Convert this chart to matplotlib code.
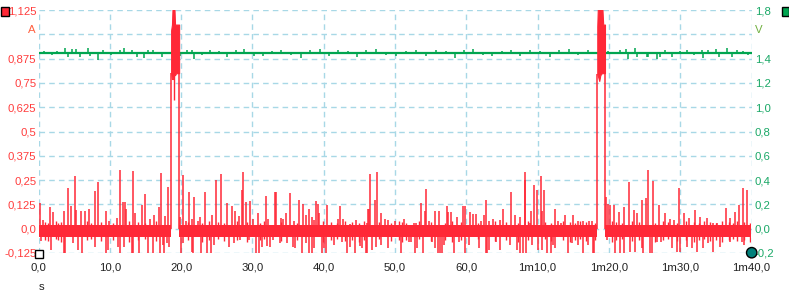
import matplotlib
matplotlib.use("Agg")
import matplotlib.pyplot as plt
from matplotlib.patches import Rectangle, Circle
from matplotlib.transforms import blended_transform_factory

# ---------------- data ----------------
# current (A): dense noise band segments (time s)
band_start = [0.0, 19.72, 79.45]
band_end = [18.6, 78.37, 100.0]
band_lo = -0.044
band_hi = 0.017

# upward current spikes
up_t = [0.2, 0.6, 1.66, 2.0, 3.6, 4.2, 4.5, 5.07, 5.3, 5.9, 6.5, 7.04, 7.97, 8.39, 9.47, 9.9,
        10.96, 11.47, 11.9, 12.1, 12.3, 13.3, 13.48, 14.56, 14.9, 15.7, 16.15, 16.86, 17.18,
        17.8, 18.2, 19.9, 20.3, 20.7, 21.15, 21.5, 21.85, 22.4, 22.65, 23.4, 24.3, 24.9, 25.64,
        26.5, 27.2, 27.56, 28.1, 28.5, 28.62, 29.1, 29.6, 30.1, 30.8, 31.9, 32.2, 33.2, 33.35,
        33.97, 34.3, 34.7, 35.3, 35.9, 36.6, 37.1, 37.5, 37.9, 38.3, 38.7, 38.96, 39.2, 39.4,
        40.5, 42.05, 42.3, 42.75, 43.7, 44.6, 46.1, 46.2, 46.4, 46.5, 47.2, 47.5, 48.04, 48.6,
        49.06, 50.0, 51.3, 52.66, 53.0, 53.6, 54.2, 54.35, 54.8, 55.6, 56.2, 57.25, 57.5, 57.9,
        58.7, 59.6, 59.86, 60.5, 60.9, 61.3, 62.0, 62.5, 62.8, 63.2, 63.7, 64.7, 65.2, 66.2,
        66.8, 67.5, 68.2, 68.3, 68.9, 69.1, 69.5, 69.85, 70.5, 70.6, 70.9, 71.6, 72.5, 72.8,
        73.3, 73.85, 75.0, 75.7, 76.4, 77.25, 77.6, 79.55, 79.84, 80.15, 80.76, 81.46, 82.1,
        82.76, 83.5, 83.9, 84.6, 85.2, 85.44, 86.2, 87.0, 87.9, 88.6, 89.2, 89.9, 90.5, 91.3,
        92.1, 92.8, 93.7, 94.6, 95.2, 96.4, 97.0, 97.7, 98.3, 98.8, 99.4]
up_v = [0.134, 0.045, 0.113, 0.087, 0.09, 0.21, 0.116, 0.272, 0.095, 0.09, 0.09, 0.10, 0.193,
        0.241, 0.09, 0.04, 0.053, 0.30, 0.137, 0.137, 0.10, 0.296, 0.08, 0.12, 0.18, 0.05,
        0.07, 0.11, 0.284, 0.065, 0.216, 0.06, 0.277, 0.04, 0.19, 0.05, 0.165, 0.04, 0.06,
        0.19, 0.07, 0.25, 0.28, 0.134, 0.117, 0.09, 0.065, 0.2, 0.29, 0.138, 0.14, 0.05, 0.08,
        0.17, 0.05, 0.19, 0.19, 0.055, 0.05, 0.08, 0.185, 0.04, 0.147, 0.127, 0.07, 0.10, 0.06,
        0.045, 0.142, 0.127, 0.08, 0.122, 0.05, 0.117, 0.05, 0.025, 0.045, 0.03, 0.1, 0.1, 0.28,
        0.15, 0.29, 0.08, 0.05, 0.045, 0.04, 0.05, 0.03, 0.03, 0.134, 0.09, 0.204, 0.04, 0.09,
        0.09, 0.117, 0.086, 0.084, 0.06, 0.117, 0.117, 0.085, 0.077, 0.077, 0.04, 0.07, 0.146,
        0.04, 0.05, 0.045, 0.1, 0.19, 0.07, 0.06, 0.25, 0.29, 0.03, 0.09, 0.225, 0.2, 0.27,
        0.09, 0.2, 0.02, 0.1, 0.04, 0.03, 0.07, 0.07, 0.04, 0.04, 0.04, 0.04, 0.165, 0.127,
        0.12, 0.12, 0.087, 0.113, 0.24, 0.095, 0.08, 0.147, 0.156, 0.30, 0.245, 0.12, 0.08,
        0.048, 0.044, 0.21, 0.08, 0.053, 0.096, 0.06, 0.053, 0.027, 0.027, 0.104, 0.053,
        0.087, 0.12, 0.21, 0.2]

# downward current spikes
dn_t = [0.3, 1.75, 3.6, 3.77, 4.9, 5.6, 6.1, 7.97, 9.47, 9.75, 11.1, 11.5, 12.0, 13.07, 13.2,
        14.1, 15.36, 16.1, 17.04, 17.4, 17.65, 17.98, 18.35, 19.94, 20.2, 21.57, 21.7, 22.75,
        23.67, 24.15, 24.6, 26.7, 27.4, 28.26, 29.57, 30.5, 30.97, 31.4, 32.1, 32.5, 32.9,
        33.87, 34.8, 35.7, 35.97, 37.0, 37.5, 37.9, 38.3, 38.7, 39.8, 40.1, 40.3, 41.5, 42.6,
        43.2, 43.7, 44.4, 45.1, 45.4, 45.98, 46.07, 46.8, 47.4, 48.1, 49.06, 50.8, 51.9, 52.2,
        52.76, 53.1, 53.97, 55.15, 55.6, 56.1, 56.3, 56.55, 56.9, 58.3, 59.0, 59.8, 60.4, 61.8,
        62.7, 62.95, 63.2, 64.2, 64.7, 66.1, 67.07, 67.5, 67.9, 68.4, 69.2, 70.1, 70.6, 71.3,
        71.85, 72.2, 72.4, 74.2, 74.8, 75.7, 76.3, 77.1, 77.7, 77.95, 79.7, 80.85, 81.55,
        82.16, 82.96, 83.66, 84.6, 84.8, 85.76, 86.0, 86.8, 87.35, 88.8, 89.5, 89.97, 91.0,
        91.6, 92.4, 93.2, 93.9, 94.6, 95.6, 97.0, 98.6, 98.95, 99.55]
dn_v = [-0.063, -0.11, -0.123, -0.123, -0.075, -0.11, -0.123, -0.096, -0.123, -0.11, -0.092,
        -0.123, -0.092, -0.123, -0.123, -0.123, -0.123, -0.123, -0.123, -0.084, -0.123,
        -0.075, -0.096, -0.123, -0.072, -0.118, -0.123, -0.123, -0.123, -0.123, -0.084,
        -0.096, -0.075, -0.058, -0.058, -0.123, -0.123, -0.092, -0.088, -0.096, -0.058,
        -0.072, -0.075, -0.096, -0.1, -0.123, -0.075, -0.123, -0.123, -0.1, -0.123, -0.1,
        -0.123, -0.084, -0.067, -0.123, -0.092, -0.123, -0.088, -0.1, -0.123, -0.123, -0.11,
        -0.092, -0.084, -0.1, -0.123, -0.067, -0.067, -0.123, -0.1, -0.123, -0.067, -0.1,
        -0.123, -0.123, -0.123, -0.084, -0.123, -0.067, -0.123, -0.084, -0.1, -0.123, -0.123,
        -0.11, -0.067, -0.11, -0.084, -0.11, -0.123, -0.123, -0.123, -0.084, -0.11, -0.11,
        -0.123, -0.123, -0.084, -0.1, -0.123, -0.075, -0.084, -0.123, -0.084, -0.123, -0.123,
        -0.058, -0.123, -0.123, -0.123, -0.118, -0.118, -0.1, -0.123, -0.123, -0.123, -0.067,
        -0.067, -0.1, -0.119, -0.119, -0.093, -0.1, -0.119, -0.1, -0.076, -0.119, -0.093,
        -0.067, -0.067, -0.084, -0.04]

# small ripple spikes in the noise band (time, high, low)
rip_t = [0.9, 1.3, 2.4, 2.8, 3.2, 6.8, 7.4, 8.8, 10.4, 12.7, 14.0, 15.0, 16.5, 20.9, 23.0,
         23.9, 25.2, 26.0, 27.9, 29.3, 31.1, 31.6, 34.0, 36.2, 39.9, 41.0, 41.8, 43.0, 44.0,
         45.0, 45.7, 47.8, 49.5, 50.5, 51.0, 51.6, 53.3, 55.0, 57.0, 58.0, 59.3, 61.6, 64.0,
         65.6, 67.2, 68.6, 71.0, 71.9, 73.6, 74.5, 75.3, 76.0, 76.8, 78.0, 80.4, 81.0, 81.8,
         83.2, 84.2, 86.5, 87.6, 88.3, 89.6, 90.8, 91.9, 92.6, 93.4, 94.2, 95.0, 95.8, 96.8,
         97.4, 98.0, 99.0, 99.8]
rip_hi = [0.035, 0.03, 0.04, 0.03, 0.035, 0.04, 0.03, 0.035, 0.03, 0.04, 0.035, 0.03, 0.04,
          0.035, 0.03, 0.04, 0.035, 0.03, 0.04, 0.035, 0.03, 0.04, 0.035, 0.03, 0.04, 0.035,
          0.03, 0.04, 0.035, 0.03, 0.04, 0.035, 0.03, 0.04, 0.035, 0.03, 0.04, 0.035, 0.03,
          0.04, 0.035, 0.03, 0.04, 0.035, 0.03, 0.04, 0.035, 0.03, 0.04, 0.035, 0.03, 0.04,
          0.035, 0.03, 0.04, 0.035, 0.03, 0.04, 0.035, 0.03, 0.04, 0.035, 0.03, 0.04, 0.035,
          0.03, 0.04, 0.035, 0.03, 0.04, 0.035, 0.03, 0.04, 0.035, 0.03]
rip_lo = [-0.06, -0.065, -0.055, -0.06, -0.07, -0.06, -0.055, -0.065, -0.06, -0.07, -0.06,
          -0.055, -0.065, -0.06, -0.07, -0.06, -0.055, -0.065, -0.06, -0.07, -0.06, -0.055,
          -0.065, -0.06, -0.07, -0.06, -0.055, -0.065, -0.06, -0.07, -0.06, -0.055, -0.065,
          -0.06, -0.07, -0.06, -0.055, -0.065, -0.06, -0.07, -0.06, -0.055, -0.065, -0.06,
          -0.07, -0.06, -0.055, -0.065, -0.06, -0.07, -0.06, -0.055, -0.065, -0.06, -0.07,
          -0.06, -0.055, -0.065, -0.06, -0.07, -0.06, -0.055, -0.065, -0.06, -0.07, -0.06,
          -0.055, -0.065, -0.06, -0.07, -0.06, -0.055, -0.065, -0.06, -0.07]

# high-current bursts
b1_t = [18.6, 18.72, 18.86, 19.0, 19.15, 19.3, 19.5, 19.72]
b1_hi = [1.02, 1.05, 1.2, 1.2, 1.05, 1.05, 1.05, 1.05]
b1_lo = [0.80, 0.77, 0.77, 0.79, 0.79, 0.80, 0.80, 0.80]
b1_dip_t = [19.0]
b1_dip_v = [0.66]
b2_t = [78.37, 78.5, 78.65, 78.8, 79.0, 79.2, 79.45]
b2_hi = [1.04, 1.2, 1.2, 1.2, 1.2, 1.05, 1.05]
b2_lo = [0.795, 0.78, 0.76, 0.79, 0.80, 0.80, 0.80]

# voltage (V)
v_base = 1.448
g_t = [0.8, 1.9, 2.6, 3.7, 4.2, 4.65, 5.26, 5.8, 6.9, 7.2, 8.4, 9.0, 10.2, 11.4, 12.0, 13.1,
       13.8, 14.8, 15.4, 16.1, 17.3, 19.85, 20.8, 21.5, 21.85, 23.0, 24.0, 25.3, 26.5, 27.7,
       28.8, 30.2, 31.5, 32.8, 34.0, 35.4, 36.8, 38.1, 39.5, 40.8, 42.0, 43.4, 44.7, 46.0,
       47.3, 48.8, 50.2, 51.6, 53.0, 54.4, 55.8, 57.1, 58.4, 59.7, 61.0, 62.3, 63.6, 65.0,
       66.3, 67.6, 69.0, 70.4, 71.7, 73.0, 74.4, 75.7, 77.0, 79.9, 81.5, 82.4, 82.7, 83.6,
       83.9, 85.3, 85.5, 86.7, 87.1, 87.9, 88.8, 90.0, 91.0, 92.0, 93.0, 93.2, 93.9, 94.96,
       95.5, 96.6, 97.2, 98.0, 98.8, 99.55]
g_dv = [0.015, -0.02, 0.018, 0.036, -0.033, 0.03, 0.027, -0.033, 0.036, -0.027, -0.06, 0.022,
        -0.02, 0.022, 0.036, 0.022, -0.038, -0.047, 0.022, 0.022, -0.033, -0.027, 0.022,
        0.022, -0.055, -0.02, 0.025, 0.018, -0.035, 0.02, 0.03, -0.025, -0.03, 0.018, 0.025,
        -0.02, -0.04, 0.02, 0.028, -0.025, 0.022, 0.018, -0.035, 0.02, 0.03, -0.02, -0.03,
        0.018, 0.025, -0.025, 0.022, 0.018, -0.04, 0.02, 0.03, -0.02, -0.03, 0.018, 0.025,
        -0.025, 0.022, 0.018, -0.035, 0.02, 0.028, -0.02, 0.022, 0.015, 0.022, 0.027, -0.055,
        0.036, -0.038, -0.038, -0.038, -0.055, -0.038, 0.022, -0.038, 0.018, 0.022, -0.02,
        0.022, -0.047, 0.022, 0.027, -0.038, 0.036, -0.038, 0.022, 0.015, -0.02]

x_ticks = [0, 10, 20, 30, 40, 50, 60, 70, 80, 90, 100]
x_labels = ["0,0", "10,0", "20,0", "30,0", "40,0", "50,0", "60,0",
            "1m10,0", "1m20,0", "1m30,0", "1m40,0"]
a_ticks = [-0.125, 0.0, 0.125, 0.25, 0.375, 0.5, 0.625, 0.75, 0.875, 1.0, 1.125]
a_labels = ["-0,125", "0,0", "0,125", "0,25", "0,375", "0,5", "0,625", "0,75", "0,875", "", "1,125"]
v_ticks = [-0.2, 0.0, 0.2, 0.4, 0.6, 0.8, 1.0, 1.2, 1.4, 1.6, 1.8]
v_labels = ["-0,2", "0,0", "0,2", "0,4", "0,6", "0,8", "1,0", "1,2", "1,4", "", "1,8"]

# ---------------- style ----------------
RED = "#ff2837"
GREEN = "#00a550"
GRID = "#a8d8e6"
plt.rcParams["font.family"] = ["Liberation Sans", "DejaVu Sans"]
FS = 8.2

fig = plt.figure(figsize=(7.89, 2.94), dpi=100)
W, H = 789, 294
L, R, T, B = 38.5, 751.5, 10, 253
ax2 = fig.add_axes([L / W, 1 - B / H, (R - L) / W, (B - T) / H])
ax = ax2.twinx()
ax.set_zorder(ax2.get_zorder() + 1)
ax.patch.set_visible(False)
ax.yaxis.tick_left()
ax2.yaxis.tick_right()

for a in (ax, ax2):
    for s in a.spines.values():
        s.set_visible(False)
    a.set_xlim(0, 100)

ax.set_ylim(-0.125, 1.125)
ax2.set_ylim(-0.2, 1.8)

# grid on bottom axis (behind green)
ax2.set_axisbelow(True)
ax2.set_xticks(x_ticks)
ax2.set_xticklabels(x_labels, fontsize=FS, color="#222222")
ax2.tick_params(axis="x", length=0, pad=7)
ax2.set_yticks(v_ticks)
ax2.grid(True, color=GRID, linestyle=(0, (4, 3)), linewidth=1.0)

# voltage trace
ax2.hlines(v_base, 0, 100, color=GREEN, linewidth=1.6)
ax2.vlines(g_t, v_base, [v_base + d for d in g_dv], color=GREEN, linewidth=1.1)

# current trace
for s0, s1 in zip(band_start, band_end):
    ax.fill_between([s0, s1], band_lo, band_hi, color=RED, linewidth=0)
ax.vlines(rip_t, rip_lo, rip_hi, color=RED, linewidth=1.0)
ax.vlines(up_t, 0, up_v, color=RED, linewidth=1.1)
ax.vlines(dn_t, 0, dn_v, color=RED, linewidth=1.1)
ax.fill_between(b1_t, b1_lo, b1_hi, color=RED, linewidth=0.8, edgecolor=RED)
ax.fill_between(b2_t, b2_lo, b2_hi, color=RED, linewidth=0.8, edgecolor=RED)
ax.vlines([b1_t[0], b1_t[-1]], 0, [b1_lo[0], b1_lo[-1]], color=RED, linewidth=1.1)
ax.vlines([b2_t[0], b2_t[-1]], 0, [b2_lo[0], b2_lo[-1]], color=RED, linewidth=1.1)
ax.vlines(b1_dip_t, b1_dip_v, b1_lo[3], color=RED, linewidth=1.0)

# y tick labels
ax.set_yticks(a_ticks)
ax.set_yticklabels(a_labels, fontsize=FS, color="#ff3c3c")
ax.tick_params(axis="y", length=0, pad=1.5)
ax.tick_params(axis="x", length=0, labelbottom=False)
ax2.set_yticklabels(v_labels, fontsize=FS, color="#19a866")
ax2.tick_params(axis="y", length=0, pad=2.5)

trA = blended_transform_factory(ax.transAxes, ax.transData)
ax.text(-0.004, 1.02, "A", transform=trA, ha="right", va="center", fontsize=FS, color="#ff6040")
trV = blended_transform_factory(ax2.transAxes, ax2.transData)
ax2.text(1.005, 1.632, "V", transform=trV, ha="left", va="center", fontsize=FS, color="#70b040")

fig.text(42 / W, 1 - 287 / H, "s", ha="center", va="center", fontsize=FS, color="#222222")

# corner markers
fig.patches.append(Rectangle((0.5 / W, 1 - 15.5 / H), 8.5 / W, 8.5 / H, transform=fig.transFigure,
                             facecolor=RED, edgecolor="black", linewidth=1.0, zorder=10))
fig.patches.append(Rectangle((781.5 / W, 1 - 15.5 / H), 7 / W, 8.5 / H, transform=fig.transFigure,
                             facecolor=GREEN, edgecolor="black", linewidth=1.0, zorder=10))
fig.patches.append(Rectangle((34.5 / W, 1 - 257.5 / H), 8 / W, 8 / H, transform=fig.transFigure,
                             facecolor="white", edgecolor="black", linewidth=1.0, zorder=10))
circ = Circle((751.7, H - 252.7), 5.2, transform=None, facecolor="#00807a",
              edgecolor="black", linewidth=1.0, zorder=10)
fig.patches.append(circ)

fig.savefig("out.png", dpi=100)
